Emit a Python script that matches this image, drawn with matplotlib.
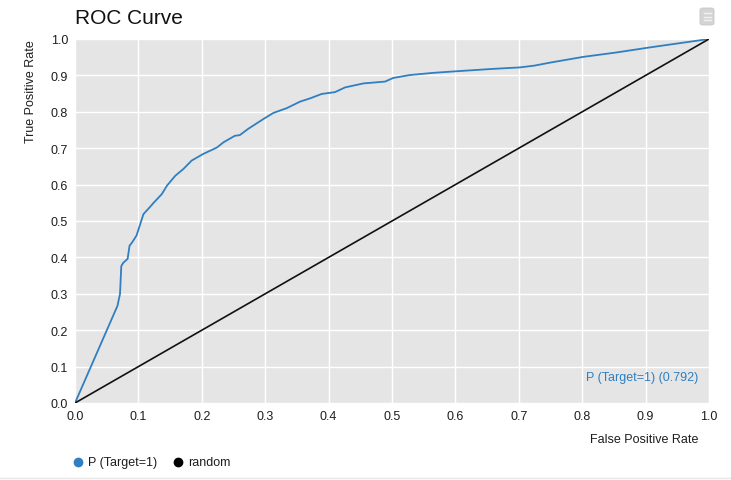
import matplotlib
matplotlib.use("Agg")
import matplotlib.pyplot as plt
from matplotlib.patches import FancyBboxPatch
from matplotlib.lines import Line2D

plt.rcParams['font.family'] = ['Liberation Sans', 'DejaVu Sans']

# ROC curve points for the model
fpr = [0.0, 0.067, 0.071, 0.073, 0.076, 0.083, 0.086, 0.090, 0.097, 0.108,
       0.118, 0.124, 0.137, 0.145, 0.158, 0.171, 0.184, 0.202, 0.224, 0.234,
       0.252, 0.260, 0.273, 0.297, 0.313, 0.334, 0.355, 0.371, 0.389, 0.410,
       0.426, 0.455, 0.489, 0.502, 0.528, 0.565, 0.607, 0.660, 0.702, 0.725,
       0.749, 0.802, 0.854, 0.907, 1.0]
tpr = [0.0, 0.267, 0.300, 0.376, 0.385, 0.396, 0.432, 0.441, 0.460, 0.519,
       0.538, 0.550, 0.574, 0.597, 0.624, 0.643, 0.666, 0.684, 0.702, 0.716,
       0.734, 0.736, 0.753, 0.780, 0.797, 0.810, 0.828, 0.837, 0.849, 0.854,
       0.867, 0.878, 0.883, 0.893, 0.901, 0.907, 0.912, 0.918, 0.922, 0.927,
       0.935, 0.951, 0.963, 0.977, 1.0]
random_x = [0.0, 1.0]
random_y = [0.0, 1.0]
auc = 0.792
series_name = "P (Target=1)"
ticks = [0.0, 0.1, 0.2, 0.3, 0.4, 0.5, 0.6, 0.7, 0.8, 0.9, 1.0]

W, H = 731, 481
fig = plt.figure(figsize=(W / 100, H / 100), dpi=100)
ax = fig.add_axes([75 / W, 1 - 404 / H, 634 / W, 364 / H])
ax.set_facecolor('#e5e5e5')
for s in ax.spines.values():
    s.set_visible(False)

blue = '#2f7fc1'
ax.plot(fpr, tpr, color=blue, lw=1.3, zorder=3, solid_joinstyle='round')
ax.plot(random_x, random_y, color='#111111', lw=1.2, zorder=3)

ax.set_xlim(0, 1)
ax.set_ylim(0, 1)
ax.set_xticks(ticks)
ax.set_yticks(ticks)
ax.set_xticklabels([f"{t:.1f}" for t in ticks])
ax.set_yticklabels([f"{t:.1f}" for t in ticks])
ax.grid(True, color='white', lw=1.0)
ax.set_axisbelow(True)
ax.tick_params(length=0, labelsize=9, colors='#1e1e1e', pad=5)

# Title and axis labels
fig.text(75 / W, 1 - 18 / H, "ROC Curve", fontsize=15, color='#111111',
         ha='left', va='center')
fig.text(31 / W, 1 - 40 / H, "True Positive Rate", fontsize=9, rotation=90,
         ha='center', va='top', color='#1e1e1e')
fig.text(698 / W, 1 - 440 / H, "False Positive Rate", fontsize=9,
         ha='right', va='center', color='#1e1e1e')

# AUC annotation
ax.text((698 - 75) / 634, (404 - 378) / 364,
        f"{series_name} ({auc:.3f})", fontsize=9, color=blue,
        ha='right', va='center', transform=ax.transAxes)

# Legend
fig.add_artist(Line2D([78 / W], [1 - 463 / H], marker='o', markersize=6,
                      color=blue, linestyle='none', transform=fig.transFigure))
fig.text(88 / W, 1 - 463 / H, series_name, fontsize=9, color='#1e1e1e',
         ha='left', va='center')
fig.add_artist(Line2D([178 / W], [1 - 463 / H], marker='o', markersize=6,
                      color='black', linestyle='none', transform=fig.transFigure))
fig.text(188 / W, 1 - 463 / H, "random", fontsize=9, color='#1e1e1e',
         ha='left', va='center')

# Bottom separator
fig.add_artist(Line2D([0, 1], [1 - 479 / H, 1 - 479 / H], color='#e6e6e6',
                      lw=1, transform=fig.transFigure))

# Menu button
bx, by, bw, bh = 700, 9, 14, 17
fig.add_artist(FancyBboxPatch((bx / W, 1 - (by + bh) / H), bw / W, bh / H,
                              boxstyle="round,pad=0,rounding_size=0.004",
                              fc='#d4d4d4', ec='#c8c8c8', lw=0.6,
                              transform=fig.transFigure))
for yy in (14, 17.5, 21):
    fig.add_artist(Line2D([(bx + 3.5) / W, (bx + bw - 3.5) / W],
                          [1 - yy / H, 1 - yy / H], color='#f2f2f2', lw=1,
                          transform=fig.transFigure))

fig.savefig("out.png", dpi=100)
